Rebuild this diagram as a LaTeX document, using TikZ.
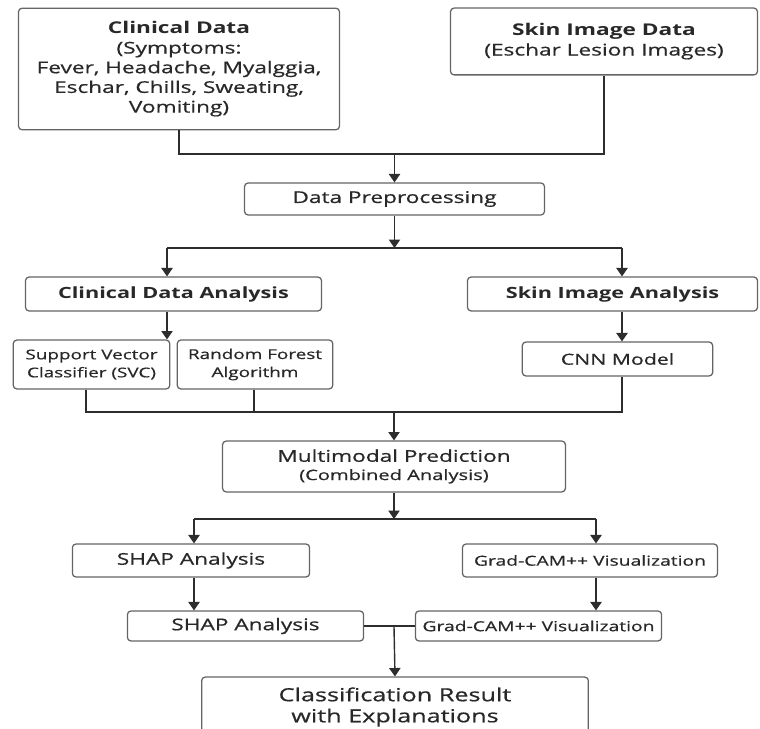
\documentclass[tikz,border=0pt]{standalone}
\usepackage{fontspec}
\setmainfont[FakeStretch=1.4, UprightFeatures={FakeBold=0.7}]{Open Sans}
\usepackage{tikz}
\usetikzlibrary{arrows.meta, positioning, calc}
\definecolor{LineColor}{RGB}{45,45,45}
\definecolor{BoxColor}{RGB}{100,100,100}
\definecolor{TextColor}{RGB}{40,40,40}

\begin{document}
\begin{tikzpicture}[x=0.025cm, y=-0.025cm,
    box/.style={draw=BoxColor, line width=0.9pt, rounded corners=2.5pt, align=center,
      inner sep=0pt, text=TextColor, font=\fontsize{11.5}{14}\selectfont},
    boxsize/.style 2 args={minimum width=#1*0.7087pt, minimum height=#2*0.7087pt},
    link/.style={draw=LineColor, line width=1pt},
    arr/.style={link, -{Triangle[length=6pt, width=8pt]}}]
  \path[use as bounding box, clip] (0,0) rectangle (760,728);

  % inputs
  \node[box, boxsize={322}{122}] (clin) at (179,69)
    {\textbf{Clinical Data}\\(Symptoms:\\Fever, Headache, Myalggia,\\Eschar, Chills, Sweating,\\Vomiting)};
  \node[box, boxsize={308}{67}] (skin) at (604,41.5)
    {\textbf{Skin Image Data}\\(Eschar Lesion Images)};
  \node[box, boxsize={301}{32}] (prep) at (394.5,199) {Data Preprocessing};

  % two branches
  \node[box, boxsize={297}{34}, font=\fontsize{11}{14}\selectfont] (cda) at (173.5,294) {\textbf{Clinical Data Analysis}};
  \node[box, boxsize={291}{34}, font=\fontsize{11}{14}\selectfont] (sia) at (612.5,294) {\textbf{Skin Image Analysis}};
  \node[box, boxsize={157}{49}, font=\fontsize{9.6}{12.8}\selectfont] (svc) at (91.5,364.5) {Support Vector\\Classifier (SVC)};
  \node[box, boxsize={156}{49}, font=\fontsize{9.6}{12.8}\selectfont] (rf) at (255,364.5) {Random Forest\\Algorithm};
  \node[box, boxsize={191}{34}, font=\fontsize{10.8}{14}\selectfont] (cnn) at (617.5,359) {CNN Model};

  % combined
  \node[box, boxsize={344}{51}] (mm) at (394,466.5)
    {Multimodal Prediction\\[-1pt]{\fontsize{10.2}{13}\selectfont (Combined Analysis)}};

  % explanations
  \node[box, boxsize={238}{33}] (shap1) at (191,560.5) {SHAP Analysis};
  \node[box, boxsize={256}{33}, font=\fontsize{9.8}{12}\selectfont] (gc1) at (590,560.5) {Grad-CAM++ Visualization};
  \node[box, boxsize={237}{30}] (shap2) at (245.5,626) {SHAP Analysis};
  \node[box, boxsize={247}{30}, font=\fontsize{9.8}{12}\selectfont] (gc2) at (538.5,626) {Grad-CAM++ Visualization};
  \node[box, boxsize={388}{60}, font=\fontsize{12.8}{15}\selectfont] (res) at (395,707)
    {Classification Result\\with Explanations};

  % junction points
  \coordinate (j1) at (394.5,154);
  \coordinate (j2) at (394.5,248);
  \coordinate (j2l) at (167,248);
  \coordinate (j2r) at (622,248);
  \coordinate (j3) at (394,412);
  \coordinate (j3l) at (86,412);
  \coordinate (j3m) at (254,412);
  \coordinate (j4) at (394,519);
  \coordinate (j4l) at (194,519);
  \coordinate (j4r) at (596,519);
  \coordinate (j5) at (394,627);

  % inputs into preprocessing
  \draw[link] (clin.south) -- (clin.south |- j1) -- (skin.south |- j1) -- (skin.south);
  \draw[arr] (j1) -- (prep.north);

  % split
  \draw[arr] (prep.south) -- (j2);
  \draw[link] (j2l) -- (j2r);
  \draw[arr] (j2l) -- (j2l |- cda.north);
  \draw[arr] (j2r) -- (j2r |- sia.north);
  \draw[arr] (j2l |- cda.south) -- (j2l |- svc.north);
  \draw[arr] (j2r |- sia.south) -- (j2r |- cnn.north);

  % merge
  \draw[link] (j3l |- svc.south) -- (j3l) -- (j2r |- j3) -- (j2r |- cnn.south);
  \draw[link] (j3m |- rf.south) -- (j3m);
  \draw[arr] (j3) -- (mm.north);

  % explanation branches
  \draw[arr] (mm.south) -- (j4);
  \draw[link] (j4l) -- (j4r);
  \draw[arr] (j4l) -- (j4l |- shap1.north);
  \draw[arr] (j4r) -- (j4r |- gc1.north);
  \draw[arr] (j4l |- shap1.south) -- (j4l |- shap2.north);
  \draw[arr] (j4r |- gc1.south) -- (j4r |- gc2.north);

  % result
  \draw[link] (shap2.east) -- (gc2.west);
  \draw[arr] (j5) -- (res.north);
\end{tikzpicture}
\end{document}
